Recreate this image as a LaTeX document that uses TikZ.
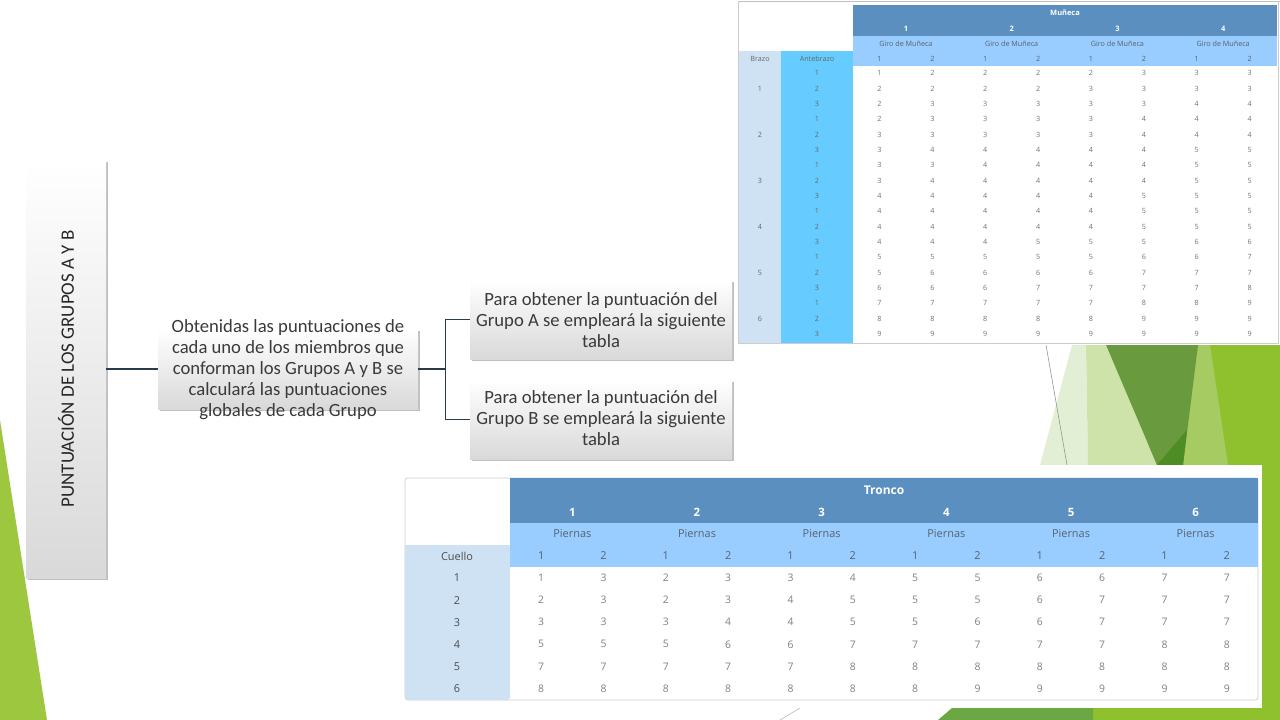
\documentclass[tikz,border=0pt]{standalone}
\usepackage{fontspec}
\setmainfont{Carlito}
\newfontfamily\tabfont{Open Sans}
\usetikzlibrary{shadows}
\definecolor{hdrdark}{HTML}{5A8FBF}
\definecolor{hdrlight}{HTML}{99CCFF}
\definecolor{colsky}{HTML}{66CCFF}
\definecolor{colpale}{HTML}{CFE2F3}
\definecolor{txtdark}{HTML}{3A3A3A}
\definecolor{linecol}{HTML}{2A3B4C}
\definecolor{slate}{HTML}{56636F}
\definecolor{gA}{HTML}{8FC12E}
\definecolor{gB}{HTML}{A5CB62}
\definecolor{gC}{HTML}{6A9A3E}
\definecolor{gD}{HTML}{4E8C25}
\definecolor{gE}{HTML}{E3EFD5}
\definecolor{gF}{HTML}{CEE3AA}
\definecolor{gG}{HTML}{6BA843}
\definecolor{leftg}{HTML}{9DC73F}
\begin{document}
\begin{tikzpicture}[x=0.75pt,y=-0.75pt,
  boxstyle/.style={top color=white, bottom color=black!15, draw=none,
    drop shadow={shadow xshift=1.2pt, shadow yshift=-1.8pt, opacity=0.35, fill=black!70}},
  boxtext/.style={align=center, text=txtdark, inner sep=0pt,
    font=\fontsize{14pt}{15.8pt}\selectfont},
  conn/.style={draw=linecol, line width=0.8pt},
  hAb/.style={font=\tabfont\bfseries\fontsize{5.6pt}{6pt}\selectfont, text=white, inner sep=0pt},
  hAl/.style={font=\tabfont\fontsize{5.4pt}{6pt}\selectfont, text=slate, inner sep=0pt},
  dA/.style={font=\tabfont\fontsize{5.4pt}{6pt}\selectfont, text=black!55, inner sep=0pt},
  hBb/.style={font=\tabfont\bfseries\fontsize{8.6pt}{10pt}\selectfont, text=white, inner sep=0pt},
  hBl/.style={font=\tabfont\fontsize{8.2pt}{10pt}\selectfont, text=slate, inner sep=0pt},
  lB/.style={font=\tabfont\fontsize{8.2pt}{10pt}\selectfont, text=black!70, inner sep=0pt},
  dB/.style={font=\tabfont\fontsize{7.8pt}{10pt}\selectfont, text=black!50, inner sep=0pt}
]
\useasboundingbox (0,0) rectangle (1280,720);
\fill[white] (0,0) rectangle (1280,720);

% ---- theme decorations ----
\fill[leftg] (0,420) -- (47,720) -- (0,720) -- cycle;
\fill[gA] (1203,345) -- (1280,345) -- (1280,720) -- (1000,720) -- cycle;
\fill[gB] (1190,345) -- (1210,345) -- (1228,465) -- (1178,465) -- cycle;
\fill[gE] (1040,465) -- (1072,345) -- (1086,345) -- (1088,465) -- cycle;
\fill[gF] (1088,465) -- (1086,345) -- (1106,345) -- (1157,465) -- cycle;
\fill[gC] (1106,345) -- (1198,345) -- (1183,465) -- (1157,465) -- cycle;
\fill[gD] (1157,465) -- (1187,430) -- (1183,465) -- cycle;
\draw[black!45, line width=0.4pt] (1046,345) -- (1067,465);
\fill[gG] (952,708) -- (1093,708) -- (1093,720) -- (938,720) -- cycle;
\draw[black!30, line width=0.4pt] (780,720) -- (800,708);

% ---- diagram ----
\node[boxstyle, minimum width=60pt, minimum height=313.5pt] (tbox) at (66,369) {};
\node[rotate=90, text=black!85, inner sep=0pt, font=\fontsize{14.2pt}{16pt}\selectfont] (ttext) at (tbox.center) {PUNTUACIÓN DE LOS GRUPOS A Y B};

\node[boxstyle, minimum width=195pt, minimum height=60pt] (mid) at (288,369) {};
\node[boxtext] (midtext) at (288,369.5) {Obtenidas las puntuaciones de\\cada uno de los miembros que\\conforman los Grupos A y B se\\calculará las puntuaciones\\globales de cada Grupo};

\node[boxstyle, minimum width=196.5pt, minimum height=59.25pt] (boxA) at (601,319.5) {};
\node[boxtext] (textA) at (601,320.5) {Para obtener la puntuación del\\Grupo A se empleará la siguiente\\tabla};
\node[boxstyle, minimum width=196.5pt, minimum height=59.25pt] (boxB) at (601,419.5) {};
\node[boxtext] (textB) at (601,418.5) {Para obtener la puntuación del\\Grupo B se empleará la siguiente\\tabla};

\draw[conn] (tbox.east) -- (mid.west);
\draw[conn] (mid.east) -- ++(27,0) coordinate (split);
\draw[conn] (split) |- (boxA.west);
\draw[conn] (split) |- (boxB.west);

% ---- table A ----
\fill[white] (736,0) rectangle (1280,345);
\draw[black!25, line width=0.5pt] (738.5,1) -- (1280,1);
\draw[black!20, line width=0.5pt] (738.5,1) -- (738.5,343) -- (1278,343) -- (1278,1);
\fill[hdrdark] (853,5) rectangle (1277,36);
\fill[hdrlight] (853,36) rectangle (1277,66);
\fill[colpale] (739,51) rectangle (781,342.5);
\fill[colsky] (781,51) rectangle (853,342.5);
\node[hAb] (amun) at (1065,13) {Muñeca};
\foreach \g in {1,...,4} {
  \node[hAb] (ag\g) at ({853+105.75*(\g-0.5)},28.5) {\g};
  \node[hAl] (agiro\g) at ({853+105.75*(\g-0.5)},43.5) {Giro de Muñeca};
}
\foreach \c in {1,...,8} {
  \pgfmathtruncatemacro{\s}{mod(\c-1,2)+1}
  \node[hAl] (asub\c) at ({853+52.875*(\c-0.5)},58.5) {\s};
}
\node[hAl, text=black!60] (abrazo) at (760,58.5) {Brazo};
\node[hAl, text=black!60] (aante) at (817,58.5) {Antebrazo};
\foreach \b in {1,...,6} {
  \node[hAl, text=black!60] (ab\b) at (760,{73.3+15.33*(3*\b-2)}) {\b};
}
\foreach \row [count=\r] in {
 {1,2,2,2,2,3,3,3},{2,2,2,2,3,3,3,3},{2,3,3,3,3,3,4,4},
 {2,3,3,3,3,4,4,4},{3,3,3,3,3,4,4,4},{3,4,4,4,4,4,5,5},
 {3,3,4,4,4,4,5,5},{3,4,4,4,4,4,5,5},{4,4,4,4,4,5,5,5},
 {4,4,4,4,4,5,5,5},{4,4,4,4,4,5,5,5},{4,4,4,5,5,5,6,6},
 {5,5,5,5,5,6,6,7},{5,6,6,6,6,7,7,7},{6,6,6,7,7,7,7,8},
 {7,7,7,7,7,8,8,9},{8,8,8,8,8,9,9,9},{9,9,9,9,9,9,9,9}} {
  \pgfmathtruncatemacro{\ab}{mod(\r-1,3)+1}
  \node[hAl, text=black!60] (aa\r) at (817,{73.3+15.33*(\r-1)}) {\ab};
  \foreach \v [count=\c] in \row {
    \node[dA] (a-\r-\c) at ({853+52.875*(\c-0.5)},{73.3+15.33*(\r-1)}) {\v};
  }
}

% ---- table B ----
\fill[white] (403,465) rectangle (1262,708);
\draw[black!20, fill=white, rounded corners=2pt, line width=0.5pt] (405,478) rectangle (1258,700);
\fill[hdrdark] (510,478) rectangle (1258,523);
\fill[hdrlight] (510,523) rectangle (1258,567);
\fill[colpale, rounded corners=2pt] (405,545) -- (405,700) -- (510,700) -- (510,545) -- cycle;
\fill[colpale] (405,545) rectangle (510,560);
\node[hBb, font=\tabfont\bfseries\fontsize{9pt}{10pt}\selectfont] (btronco) at (884,490) {Tronco};
\foreach \g in {1,...,6} {
  \node[hBb] (bg\g) at ({510+124.67*(\g-0.5)},512) {\g};
  \node[hBl] (bp\g) at ({510+124.67*(\g-0.5)},534) {Piernas};
}
\foreach \c in {1,...,12} {
  \pgfmathtruncatemacro{\s}{mod(\c-1,2)+1}
  \node[hBl] (bsub\c) at ({510+62.33*(\c-0.5)},556) {\s};
}
\node[lB] (bcuello) at (457,556) {Cuello};
\foreach \row [count=\r] in {
 {1,3,2,3,3,4,5,5,6,6,7,7},
 {2,3,2,3,4,5,5,5,6,7,7,7},
 {3,3,3,4,4,5,5,6,6,7,7,7},
 {5,5,5,6,6,7,7,7,7,7,8,8},
 {7,7,7,7,7,8,8,8,8,8,8,8},
 {8,8,8,8,8,8,8,9,9,9,9,9}} {
  \node[lB] (bl\r) at (457,{578+22.1*(\r-1)}) {\r};
  \foreach \v [count=\c] in \row {
    \node[dB] (b-\r-\c) at ({510+62.33*(\c-0.5)},{578+22.1*(\r-1)}) {\v};
  }
}
\end{tikzpicture}
\end{document}
